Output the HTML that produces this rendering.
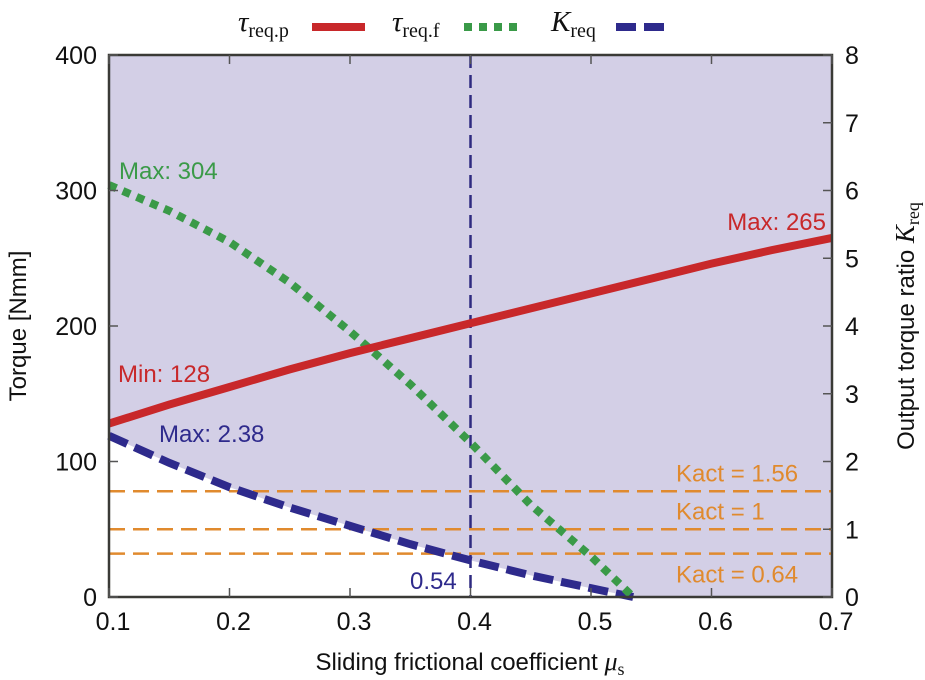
<!DOCTYPE html>
<html><head><meta charset="utf-8">
<style>
html,body{margin:0;padding:0;background:#fff;}
svg{display:block;font-family:"Liberation Sans",sans-serif;}
</style></head>
<body>
<svg id="chart" width="925" height="680" viewBox="0 0 925 680" xmlns="http://www.w3.org/2000/svg">
  <g id="plot"></g>
</svg>
<script>
const muRed = [0.1,0.15,0.2,0.25,0.3,0.35,0.4,0.45,0.5,0.55,0.6,0.65,0.7];
const tauP  = [128,142,155,168,180,191,202,213,224,235,246,256,265];
const muF   = [0.1,0.15,0.2,0.25,0.3,0.35,0.4,0.45,0.5,0.535];
const tauF  = [304,285,262,232,196,157,114,68,30,0];
const muK   = [0.1,0.15,0.2,0.25,0.3,0.35,0.4,0.45,0.5,0.535];
const kReq  = [2.38,1.98,1.62,1.32,1.05,0.78,0.54,0.32,0.13,0];
const kAct  = [1.56,1,0.64];
const kActLabels = ["Kact = 1.56","Kact = 1","Kact = 0.64"];
const xTicks = [0.1,0.2,0.3,0.4,0.5,0.6,0.7];
const yTicks = [0,100,200,300,400];
const y2Ticks = [0,1,2,3,4,5,6,7,8];
const muMarker = 0.4;

const L=109,R=832,T=55,B=597;
const X=v=>L+(v-0.1)/0.6*(R-L);
const Y=v=>B-v/400*(B-T);
const YK=k=>Y(k*50);
const NS="http://www.w3.org/2000/svg";
const svg=document.getElementById('chart');
function mk(tag,attrs,parent){const e=document.createElementNS(NS,tag);for(const k in attrs)e.setAttribute(k,attrs[k]);(parent||svg).appendChild(e);return e;}
function txt(s,attrs){const e=mk('text',attrs);e.textContent=s;return e;}

let bg=mk('rect',{x:L,y:T,width:R-L,height:B-T,fill:'#d3cfe6'});


let wp=muK.map((m,i)=>X(m)+','+YK(kReq[i])).join(' ')+' '+X(muK[muK.length-1])+','+B+' '+L+','+B;
let wr=mk('polygon',{points:wp,fill:'#ffffff'});



kAct.forEach((k,i)=>{
  let l=mk('line',{x1:L,x2:R,y1:YK(k),y2:YK(k),stroke:'#e08a2e','stroke-width':2.5,'stroke-dasharray':'16 8'});
  
  
});
kActLabels.forEach((s,i)=>{
  let t=txt(s,{x:676,y:YK(kAct[i])-(i<2?10:-29),'font-size':24,fill:'#e08a2e'});
  
  
});

let vm=mk('line',{x1:X(muMarker),x2:X(muMarker),y1:T,y2:B,stroke:'#2e2a80','stroke-width':2.5,'stroke-dasharray':'13 7'});



function pts(xs,ys,f){return xs.map((m,i)=>X(m)+','+f(ys[i])).join(' ');}
let kl=mk('polyline',{points:pts(muK,kReq,YK),fill:'none',stroke:'#2e2a8c','stroke-width':8,'stroke-dasharray':'20 8'});


let gl=mk('polyline',{points:pts(muF,tauF,Y),fill:'none',stroke:'#3a9a48','stroke-width':8,'stroke-dasharray':'8 7'});


let rl=mk('polyline',{points:pts(muRed,tauP,Y),fill:'none',stroke:'#c8282a','stroke-width':8,'stroke-linejoin':'round'});



let fr=mk('rect',{x:L,y:T,width:R-L,height:B-T,fill:'none',stroke:'#3a3a36','stroke-width':2.5});



xTicks.forEach(v=>{
  let x=X(v);
  mk('line',{x1:x,x2:x,y1:B,y2:B-9,stroke:'#555','stroke-width':1.5});
  mk('line',{x1:x,x2:x,y1:T,y2:T+9,stroke:'#555','stroke-width':1.5});
  let t=txt(v.toFixed(1),{x:x+4,y:630,'text-anchor':'middle','font-size':25,fill:'#111'});
  
  
});
yTicks.forEach(v=>{
  let y=Y(v);
  mk('line',{x1:L,x2:L+9,y1:y,y2:y,stroke:'#555','stroke-width':1.5});
  let t=txt(String(v),{x:97,y:y+9,'text-anchor':'end','font-size':25,fill:'#111'});
  
  
});
y2Ticks.forEach(v=>{
  let y=YK(v);
  mk('line',{x1:R,x2:R-9,y1:y,y2:y,stroke:'#555','stroke-width':1.5});
  let t=txt(String(v),{x:845,y:y+9,'font-size':25,fill:'#111'});
  
  
});

const ann=[["Max: 304",119,179,'#3a9a48'],["Min: 128",118,382,'#c8282a'],["Max: 265",826,230,'#c8282a'],["Max: 2.38",159,442,'#2e2a8c'],["0.54",410,589,'#2e2a8c']];
ann.forEach((a,i)=>{
  let t=txt(a[0],{x:a[1],y:a[2],'font-size':24,fill:a[3],'text-anchor':i==2?'end':'start'});
  
  
});
</script>
<svg style="position:absolute;left:0;top:0" width="925" height="680" xmlns="http://www.w3.org/2000/svg">
  <text x="470" y="670" text-anchor="middle" font-size="24" fill="#111" font-family="Liberation Sans, sans-serif">Sliding frictional coefficient  <tspan font-family="Liberation Serif, serif" font-style="italic" font-size="26">μ</tspan><tspan font-family="Liberation Serif, serif" font-size="18" dy="5">s</tspan></text>
  <text transform="translate(26,326) rotate(-90)" text-anchor="middle" font-size="24" fill="#111" font-family="Liberation Sans, sans-serif">Torque [Nmm]</text>
  <text transform="translate(914,326) rotate(-90)" text-anchor="middle" font-size="24" fill="#111" font-family="Liberation Sans, sans-serif">Output torque ratio <tspan font-family="Liberation Serif, serif" font-style="italic" font-size="27">K</tspan><tspan font-family="Liberation Serif, serif" font-size="18" dy="5">req</tspan></text>
  <g font-family="Liberation Serif, serif">
    <text x="238" y="31" font-size="29" font-style="italic" fill="#111">τ<tspan font-style="normal" font-size="20" dy="6">req.p</tspan></text>
    <line x1="312" x2="365" y1="27" y2="27" stroke="#c8282a" stroke-width="8"/>
    <text x="392" y="31" font-size="29" font-style="italic" fill="#111">τ<tspan font-style="normal" font-size="20" dy="6">req.f</tspan></text>
    <line x1="464" x2="517" y1="27" y2="27" stroke="#3a9a48" stroke-width="8" stroke-dasharray="8 7"/>
    <text x="551" y="31" font-size="29" font-style="italic" fill="#111">K<tspan font-style="normal" font-size="20" dy="6">req</tspan></text>
    <line x1="616" x2="667" y1="27" y2="27" stroke="#2e2a8c" stroke-width="8" stroke-dasharray="20 8"/>
  </g>
</svg>
</body></html>
